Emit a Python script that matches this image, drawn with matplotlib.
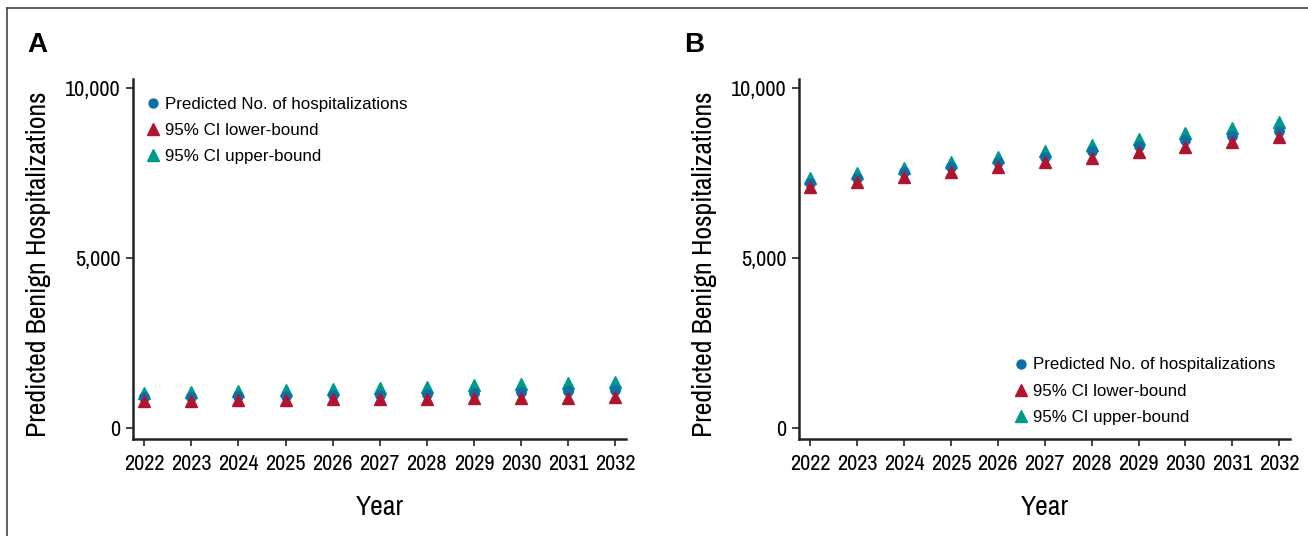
import matplotlib
matplotlib.use("Agg")
import matplotlib.pyplot as plt
from matplotlib.lines import Line2D
from matplotlib import font_manager

# Data (A and B)
years = [2022, 2023, 2024, 2025, 2026, 2027, 2028, 2029, 2030, 2031, 2032]

pred_a = [905, 920, 935, 950, 965, 985, 1005, 1030, 1055, 1080, 1110]
lower_a = [787, 805, 816, 830, 842, 855, 862, 875, 889, 898, 905]
upper_a = [1032, 1062, 1088, 1128, 1150, 1183, 1223, 1262, 1306, 1335, 1370]

pred_b = [7215, 7370, 7525, 7680, 7835, 7985, 8140, 8300, 8460, 8600, 8750]
lower_b = [7093, 7248, 7394, 7541, 7688, 7825, 7952, 8108, 8255, 8401, 8548]
upper_b = [7345, 7491, 7658, 7825, 7981, 8148, 8333, 8509, 8676, 8841, 9014]

yticks = [0, 5000, 10000]
ytick_labels = ["0", "5,000", "10,000"]

labels = ["Predicted No. of hospitalizations", "95% CI lower-bound", "95% CI upper-bound"]
c_pred = "#0a70a8"
c_low = "#b0152f"
c_up = "#00998c"

# look for a condensed face for axis text, else Roboto
names = sorted({f.name for f in font_manager.fontManager.ttflist})
cond = [n for n in names if "Narrow" in n or "Condensed" in n]
narrow = (cond[:1] if cond else ["Roboto"]) + ["DejaVu Sans"]
plt.rcParams["font.family"] = ["Liberation Sans", "DejaVu Sans"]

fig = plt.figure(figsize=(13.08, 5.36), dpi=100)

# outer frame (left and top edges visible)
fig.add_artist(Line2D([7 / 1308, 7 / 1308], [0, 1 - 8 / 536], transform=fig.transFigure,
                      color="#444444", lw=1.2))
fig.add_artist(Line2D([7 / 1308, 1], [1 - 8 / 536, 1 - 8 / 536], transform=fig.transFigure,
                      color="#444444", lw=1.2))

panels = [
    ("A", [133 / 1308, 1 - 439 / 536, 493 / 1308, 360.4 / 536], pred_a, lower_a, upper_a,
     (27 / 1308, 1 - 58 / 536), (0.010, 0.968)),
    ("B", [799 / 1308, 1 - 439 / 536, 491 / 1308, 360.4 / 536], pred_b, lower_b, upper_b,
     (684 / 1308, 1 - 58 / 536), (0.422, 0.245)),
]

for letter, rect, pred, low, up, letter_pos, leg_pos in panels:
    ax = fig.add_axes(rect)
    ax.plot(years, pred, "o", color=c_pred, ms=6.8, label=labels[0], zorder=3)
    ax.plot(years, low, "^", color=c_low, ms=8.5, label=labels[1], zorder=4)
    ax.plot(years, up, "^", color=c_up, ms=8.5, label=labels[2], zorder=2)

    ax.set_xlim(2021.76, 2032.23)
    ax.set_ylim(-320, 10280)
    ax.set_xticks(years)
    ax.set_xticklabels([str(y) for y in years], family=narrow, fontsize=16)
    ax.set_yticks(yticks)
    ax.set_yticklabels(ytick_labels, family=narrow, fontsize=16)
    ax.tick_params(direction="out", length=5, width=1.2, color="#222222")
    ax.tick_params(axis="x", pad=6)
    ax.tick_params(axis="y", pad=4)

    for side in ["top", "right"]:
        ax.spines[side].set_visible(False)
    for side in ["left", "bottom"]:
        ax.spines[side].set_linewidth(1.8)
        ax.spines[side].set_color("#222222")

    ax.set_ylabel("Predicted Benign Hospitalizations", family=narrow, fontsize=20,
                  labelpad=10, y=0.485)
    ax.set_xlabel("Year", family=narrow, fontsize=20, labelpad=15)

    ax.legend(loc="upper left", bbox_to_anchor=leg_pos, frameon=False, fontsize=12.2,
              handletextpad=0.2, handlelength=1.0, labelspacing=0.66, borderaxespad=0,
              markerscale=0.95)

    fig.text(letter_pos[0], letter_pos[1], letter, fontsize=20, fontweight="bold",
             ha="left", va="bottom")

fig.savefig("out.png", dpi=100)
